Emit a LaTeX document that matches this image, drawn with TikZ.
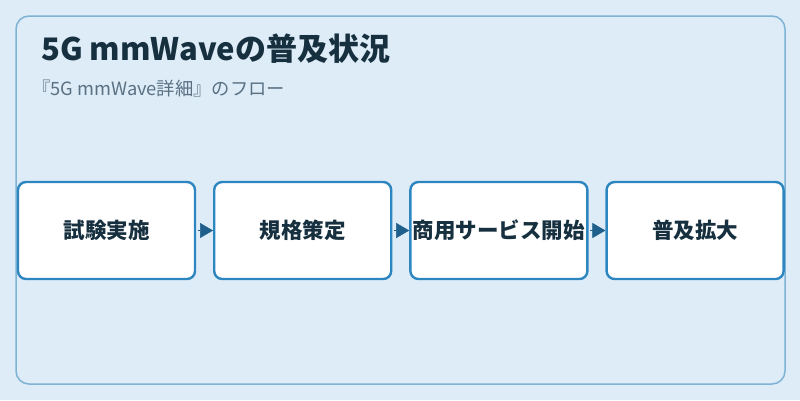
\documentclass[tikz,border=0pt]{standalone}
\usepackage{fontspec}
\setmainfont{Noto Sans CJK JP}
\usetikzlibrary{positioning,arrows.meta}
\definecolor{pagebg}{HTML}{DDECF7}
\definecolor{framecol}{HTML}{7FB3D5}
\definecolor{boxcol}{HTML}{2E86C1}
\definecolor{arrowcol}{HTML}{1F5F8B}
\definecolor{titlecol}{HTML}{17303F}
\definecolor{subcol}{HTML}{5A7184}
\tikzset{
	stepbox/.style={draw=boxcol,line width=2.4bp,fill=white,rounded corners=8bp,minimum width=177bp,minimum height=97bp,inner sep=0pt,text=titlecol,font=\fontsize{21.5bp}{24bp}\selectfont\bfseries},
	flow/.style={draw=arrowcol,line width=0.5bp,-{Triangle[length=13bp,width=15bp]},arrowcol,shorten <=1.5bp}
}
\begin{document}
\begin{tikzpicture}[x=1bp,y=-1bp]
	\useasboundingbox (0,0) rectangle (800,400);
	\fill[pagebg] (0,0) rectangle (800,400);
	\draw[framecol,line width=1.5bp,rounded corners=13bp] (16,16) rectangle (785,384);

	\node[anchor=base west,inner sep=0pt,text=titlecol,font=\fontsize{31bp}{34bp}\selectfont\bfseries] (title) at (41,60) {5G mmWaveの普及状況};
	\node[anchor=base west,inner sep=0pt,text=subcol,font=\fontsize{18.3bp}{21bp}\selectfont] (subtitle) at (32,95) {『5G mmWave詳細』のフロー};

	\node[stepbox] (trial) at (106.5,230.5) {試験実施};
	\node[stepbox,right=16.8bp of trial] (spec) {規格策定};
	\node[stepbox,right=16.8bp of spec] (launch) {商用サービス開始};
	\node[stepbox,right=16.8bp of launch] (spread) {普及拡大};

	\draw[flow] (trial) -- (spec);
	\draw[flow] (spec) -- (launch);
	\draw[flow] (launch) -- (spread);
\end{tikzpicture}
\end{document}
